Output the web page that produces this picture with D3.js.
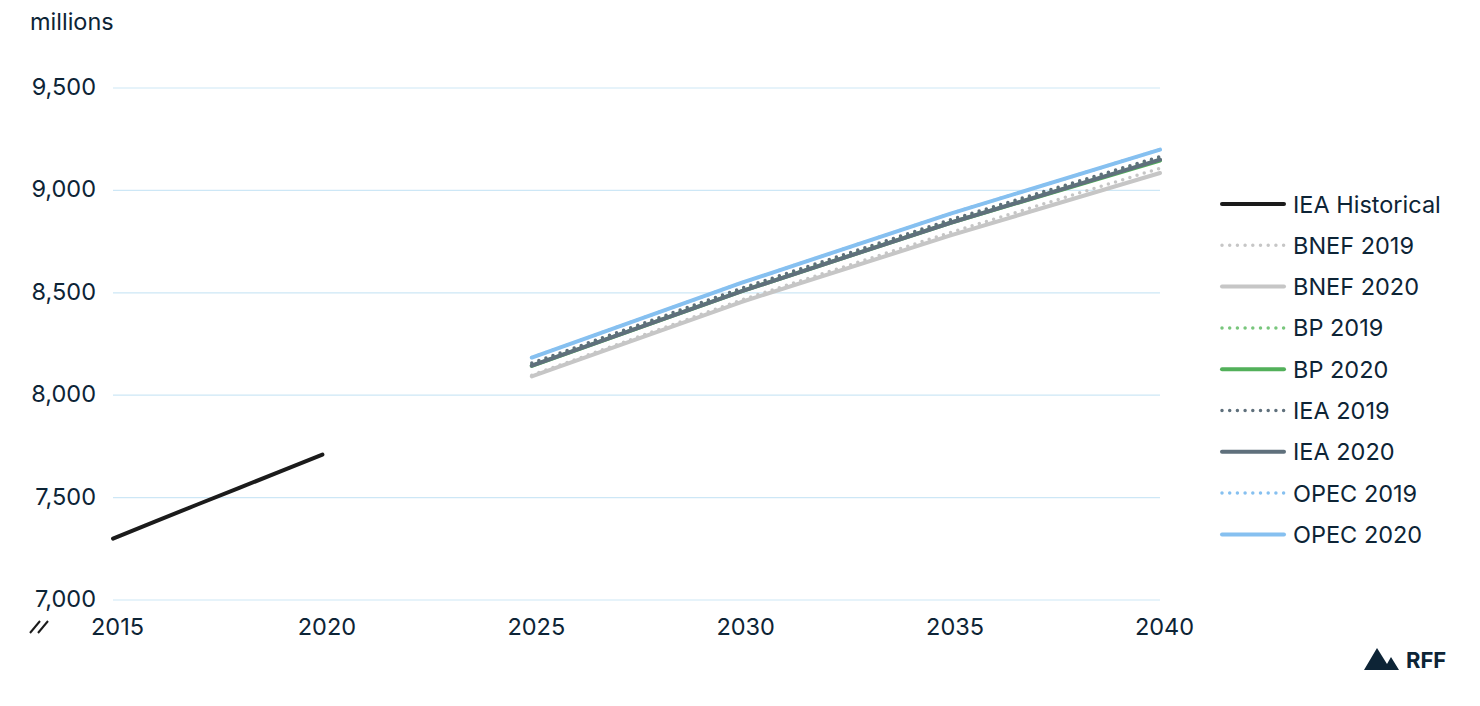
<!DOCTYPE html>
<html>
<head>
<meta charset="utf-8">
<script src="https://cdn.jsdelivr.net/npm/d3@7"></script>
<style>
  html, body { margin: 0; padding: 0; background: #fff; }
  svg { display: block; }
  text { font-family: Inter, "Noto Sans", sans-serif; fill: #0d2436; }
</style>
</head>
<body>
<svg id="chart" width="1480" height="706"></svg>
<script>
// ---------- DATA ----------
const xTicks = [2015, 2020, 2025, 2030, 2035, 2040];
const yTicks = [7000, 7500, 8000, 8500, 9000, 9500];
const histYears = [2015, 2016, 2017, 2018, 2019, 2020];
const ieaHistorical = [7300, 7383, 7465, 7546, 7628, 7710];
const projYears = [2025, 2030, 2035, 2040];
const bnef2019 = [8098, 8465, 8795, 9108];
const bnef2020 = [8092, 8455, 8780, 9085];
const bp2019 = [8150, 8515, 8850, 9160];
const bp2020 = [8143, 8507, 8842, 9146];
const iea2019 = [8157, 8522, 8857, 9165];
const iea2020 = [8144, 8507, 8842, 9150];
const opec2019 = [8184, 8548, 8887, 9199];
const opec2020 = [8184, 8548, 8887, 9199];
const seriesNames = ["IEA Historical", "BNEF 2019", "BNEF 2020", "BP 2019", "BP 2020", "IEA 2019", "IEA 2020", "OPEC 2019", "OPEC 2020"];

// ---------- STYLE ----------
const seriesStyle = {
  "IEA Historical": { color: "#1b1b1b", dotted: false },
  "BNEF 2019": { color: "#c6c6c6", dotted: true },
  "BNEF 2020": { color: "#c6c6c6", dotted: false },
  "BP 2019": { color: "#78c67c", dotted: true },
  "BP 2020": { color: "#52b05a", dotted: false },
  "IEA 2019": { color: "#5f707c", dotted: true },
  "IEA 2020": { color: "#5f707c", dotted: false },
  "OPEC 2019": { color: "#86c0f0", dotted: true },
  "OPEC 2020": { color: "#86c0f0", dotted: false }
};

const series = [
  { name: "IEA Historical", years: histYears, values: ieaHistorical },
  { name: "BNEF 2019", years: projYears, values: bnef2019 },
  { name: "BNEF 2020", years: projYears, values: bnef2020 },
  { name: "BP 2019", years: projYears, values: bp2019 },
  { name: "BP 2020", years: projYears, values: bp2020 },
  { name: "IEA 2020", years: projYears, values: iea2020 },
  { name: "IEA 2019", years: projYears, values: iea2019 },
  { name: "OPEC 2019", years: projYears, values: opec2019 },
  { name: "OPEC 2020", years: projYears, values: opec2020 }
];

const FONT = "23.5px";
const svg = d3.select("#chart");
const x = d3.scaleLinear().domain([2015, 2040]).range([113, 1160]);
const y = d3.scaleLinear().domain([7000, 9500]).range([600, 88]);

// gridlines
svg.append("g").selectAll("line").data(yTicks).join("line")
  .attr("x1", x(2015)).attr("x2", x(2040))
  .attr("y1", d => y(d)).attr("y2", d => y(d))
  .attr("stroke", "#cde7f6").attr("stroke-width", 1.2);

// y axis labels
const yAxis = d3.axisLeft(y).tickValues(yTicks).tickSize(0).tickPadding(0)
  .tickFormat(d3.format(","));
const gy = svg.append("g").attr("transform", "translate(96,-1)").call(yAxis);
gy.select(".domain").remove();
gy.selectAll("text").style("font-size", FONT).style("font-family", "Inter, 'Noto Sans', sans-serif").attr("fill", "#0d2436");

// x axis labels
const xAxis = d3.axisBottom(x).tickValues(xTicks).tickSize(0).tickPadding(0).tickFormat(d3.format("d"));
const gx = svg.append("g").attr("transform", "translate(4,618)").call(xAxis);
gx.select(".domain").remove();
gx.selectAll("text").style("font-size", FONT).style("font-family", "Inter, 'Noto Sans', sans-serif").attr("fill", "#0d2436");

// axis break mark
svg.append("g").selectAll("line").data([0, 8]).join("line")
  .attr("x1", d => 30 + d).attr("y1", 633).attr("x2", d => 40 + d).attr("y2", 621)
  .attr("stroke", "#1b1b1b").attr("stroke-width", 2);

// unit label
svg.append("text").attr("x", 30).attr("y", 30).text("millions").style("font-size", FONT);

// lines
const line = d3.line().x(d => x(d[0])).y(d => y(d[1]));
series.forEach(s => {
  const st = seriesStyle[s.name];
  const pts = s.years.map((yr, i) => [yr, s.values[i]]);
  const p = svg.append("path").datum(pts).attr("d", line)
    .attr("fill", "none").attr("stroke", st.color)
    .attr("stroke-linecap", "round").attr("stroke-linejoin", "round");
  if (st.dotted) p.attr("stroke-width", 3.5).attr("stroke-dasharray", "0 7.5");
  else p.attr("stroke-width", 4);
});

// legend
const leg = svg.append("g");
seriesNames.forEach((name, i) => {
  const st = seriesStyle[name];
  const yy = 204 + i * 41.3;
  const l = leg.append("line").attr("x1", 1222).attr("x2", 1284).attr("y1", yy).attr("y2", yy)
    .attr("stroke", st.color).attr("stroke-linecap", "round");
  if (st.dotted) l.attr("stroke-width", 3.5).attr("stroke-dasharray", "0 7.7");
  else l.attr("stroke-width", 4);
  leg.append("text").attr("x", 1293).attr("y", yy + 8.5).text(name).style("font-size", FONT);
});

// RFF logo
const logo = svg.append("g");
logo.append("path").attr("d", "M1364,670 L1377,648 L1387,664 L1391,657 L1399,670 Z").attr("fill", "#0d2436");
logo.append("text").attr("x", 1406).attr("y", 668).text("RFF")
  .style("font-size", "22px").style("font-weight", "700");
</script>
</body>
</html>
